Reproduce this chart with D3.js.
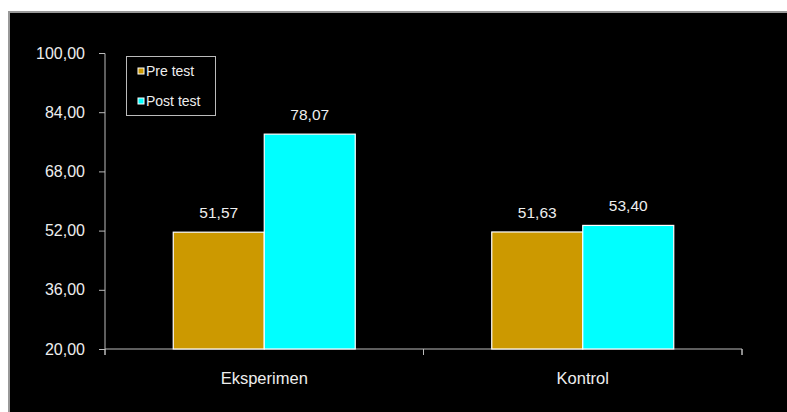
<!DOCTYPE html>
<html><head><meta charset="utf-8">
<script src="https://cdn.jsdelivr.net/npm/d3@7"></script>
<style>body{margin:0;background:#fff;}svg{display:block;}</style>
</head><body>
<svg id="c" width="787" height="412"></svg>
<script>
const categories = ["Eksperimen", "Kontrol"];
const seriesNames = ["Pre test", "Post test"];
const preTest = [51.57, 51.63];
const postTest = [78.07, 53.40];
const yTicks = [20, 36, 52, 68, 84, 100];
const colors = ["#CC9900", "#00FFFF"];

const FONT = "Arial, 'Liberation Sans', sans-serif";
const svg = d3.select("#c");
svg.append("rect").attr("x", 9).attr("y", 12).attr("width", 790).attr("height", 410)
  .attr("fill", "#000").attr("stroke", "#999").attr("stroke-width", 2);

const x0 = d3.scaleBand().domain(categories).range([105, 742]);
const x1 = d3.scaleBand().domain(seriesNames).range([0, 182]);
const y = d3.scaleLinear().domain([20, 100]).range([349, 53]);

const fmt = v => v.toFixed(2).replace(".", ",");

// y axis
const ya = svg.append("g").attr("transform", "translate(105,0)")
  .call(d3.axisLeft(y).tickValues(yTicks).tickFormat(fmt).tickSize(6).tickPadding(14));
ya.select(".domain").attr("stroke", "#bbb").attr("d", "M-6,53.5H0V349.5H-6");
ya.selectAll(".tick line").attr("stroke", "#bbb");
ya.selectAll(".tick text").attr("fill", "#eee").attr("font-family", FONT).attr("font-size", 16);

// x axis
const xa = svg.append("g").attr("transform", "translate(0,349)")
  .call(d3.axisBottom(x0).tickSize(0).tickPadding(23));
xa.select(".domain").attr("stroke", "#bbb").attr("d", "M105,6V0H742V6");
xa.selectAll(".tick text").attr("fill", "#eee").attr("font-family", FONT).attr("font-size", 16.5);
const bounds = [x0.range()[0], ...categories.map(c => x0(c) + x0.bandwidth())];
xa.selectAll(".xt").data(bounds).enter().append("line").attr("class", "xt")
  .attr("x1", d => d).attr("x2", d => d).attr("y1", 0).attr("y2", 6).attr("stroke", "#bbb");

const data = categories.map((c, i) => ({ c, vals: [preTest[i], postTest[i]] }));
const off = (x0.bandwidth() - 182) / 2;
const g = svg.selectAll(".grp").data(data).enter().append("g")
  .attr("transform", d => `translate(${x0(d.c) + off},0)`);
g.selectAll("rect").data(d => d.vals.map((v, j) => ({ v, s: seriesNames[j], j })))
  .enter().append("rect")
  .attr("x", d => x1(d.s)).attr("width", x1.bandwidth())
  .attr("y", d => y(d.v)).attr("height", d => y(20) - y(d.v))
  .attr("fill", d => colors[d.j]).attr("stroke", "#fff").attr("stroke-width", 1.2);
g.selectAll("text").data(d => d.vals.map((v, j) => ({ v, s: seriesNames[j] })))
  .enter().append("text")
  .attr("x", d => x1(d.s) + x1.bandwidth() / 2).attr("y", d => y(d.v) - 14)
  .attr("text-anchor", "middle").attr("fill", "#eee")
  .attr("font-family", FONT).attr("font-size", 15.5)
  .text(d => fmt(d.v));

// legend
const lg = svg.append("g");
lg.append("rect").attr("x", 126.5).attr("y", 56.5).attr("width", 89).attr("height", 59)
  .attr("fill", "#000").attr("stroke", "#bbb").attr("stroke-width", 1);
seriesNames.forEach((s, i) => {
  const yy = 71 + i * 30;
  lg.append("rect").attr("x", 138).attr("y", yy - 3).attr("width", 6).attr("height", 6)
    .attr("fill", colors[i]).attr("stroke", "#fff").attr("stroke-width", 1);
  lg.append("text").attr("x", 146).attr("y", yy + 5).attr("fill", "#eee")
    .attr("font-family", FONT).attr("font-size", 14).text(s);
});
</script>
</body></html>
